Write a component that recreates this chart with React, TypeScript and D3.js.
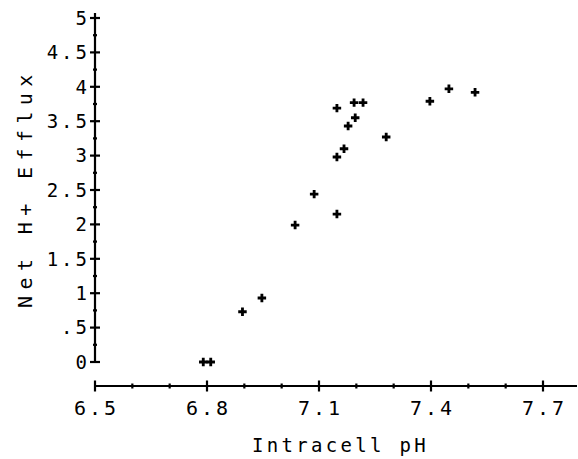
import React, { useEffect, useRef } from 'react';
import * as d3 from 'd3';

// intracellular pH vs net H+ efflux
const phValues = [6.79, 6.81, 6.895, 6.947, 7.036, 7.087, 7.148, 7.148, 7.167, 7.178, 7.197, 7.148, 7.194, 7.218, 7.28, 7.397, 7.448, 7.518];
const effluxValues = [0, 0, 0.73, 0.93, 1.99, 2.44, 2.15, 2.98, 3.1, 3.43, 3.55, 3.69, 3.77, 3.77, 3.27, 3.79, 3.97, 3.92];

const xTicks = [6.5, 6.8, 7.1, 7.4, 7.7];
const xTickLabels = ['6.5', '6.8', '7.1', '7.4', '7.7'];
const yTicks = [0, 0.5, 1, 1.5, 2, 2.5, 3, 3.5, 4, 4.5, 5];
const yTickLabels = ['0', '.5', '1', '1.5', '2', '2.5', '3', '3.5', '4', '4.5', '5'];

const xTitle = 'Intracell pH';
const yTitle = 'Net H+ Efflux';

const W = 578;
const H = 459;
const FONT = '"DejaVu Sans Mono", monospace';

export default function App() {
  const svgRef = useRef(null);

  useEffect(() => {
    document.body.style.margin = '0';
    const svg = d3.select(svgRef.current);
    svg.selectAll('*').remove();

    const x = d3.scaleLinear().domain([6.5, 7.7]).range([95, 543]);
    const y = d3.scaleLinear().domain([0, 5]).range([362, 18]);
    const xAxisY = 386;
    const yAxisX = 95;

    const g = svg.append('g').attr('stroke', '#000').attr('stroke-width', 2.2);

    // y axis line + ticks (major cross the line, minor are short)
    g.append('line').attr('x1', yAxisX).attr('x2', yAxisX).attr('y1', y(5) - 5).attr('y2', y(0));
    d3.range(0, 5.01, 0.25).forEach((v) => {
      const major = Math.abs(v * 2 - Math.round(v * 2)) < 1e-6;
      const len = major ? 5 : 2;
      g.append('line')
        .attr('x1', yAxisX - len).attr('x2', yAxisX + len)
        .attr('y1', y(v)).attr('y2', y(v));
    });

    // x axis
    g.append('line').attr('x1', x(6.5)).attr('x2', W - 1).attr('y1', xAxisY).attr('y2', xAxisY);
    d3.range(6.5, 7.85, 0.1).forEach((v, i) => {
      const major = i % 3 === 0;
      const len = major ? 5.5 : 2.5;
      g.append('line')
        .attr('x1', x(v)).attr('x2', x(v))
        .attr('y1', xAxisY - len).attr('y2', xAxisY + len);
    });

    const ls = 3;
    svg.append('g')
      .selectAll('text')
      .data(yTicks)
      .join('text')
      .attr('x', 87 + ls)
      .attr('y', (d) => y(d))
      .attr('dy', '0.36em')
      .attr('text-anchor', 'end')
      .attr('font-family', FONT)
      .attr('font-size', 19)
      .attr('letter-spacing', ls)
      .text((d, i) => yTickLabels[i]);

    svg.append('g')
      .selectAll('text')
      .data(xTicks)
      .join('text')
      .attr('x', (d) => x(d) + ls / 2)
      .attr('y', 415)
      .attr('text-anchor', 'middle')
      .attr('font-family', FONT)
      .attr('font-size', 20)
      .attr('letter-spacing', ls)
      .text((d, i) => xTickLabels[i]);

    svg.append('text')
      .attr('x', 252)
      .attr('y', 452)
      .attr('font-family', FONT)
      .attr('font-size', 19)
      .attr('letter-spacing', 3.3)
      .text(xTitle);

    svg.append('text')
      .attr('transform', 'translate(32, 308) rotate(-90)')
      .attr('font-family', FONT)
      .attr('font-size', 20)
      .attr('letter-spacing', 6.4)
      .text(yTitle);

    const cross = d3.symbol().type(d3.symbolCross).size(40);
    svg.append('g')
      .selectAll('path')
      .data(phValues.map((p, i) => [p, effluxValues[i]]))
      .join('path')
      .attr('transform', (d) => `translate(${x(d[0])},${y(d[1])})`)
      .attr('d', cross)
      .attr('fill', '#000');
  }, []);

  return (
    <svg
      ref={svgRef}
      width={W}
      height={H}
      style={{ display: 'block', background: '#fff' }}
    ></svg>
  );
}
